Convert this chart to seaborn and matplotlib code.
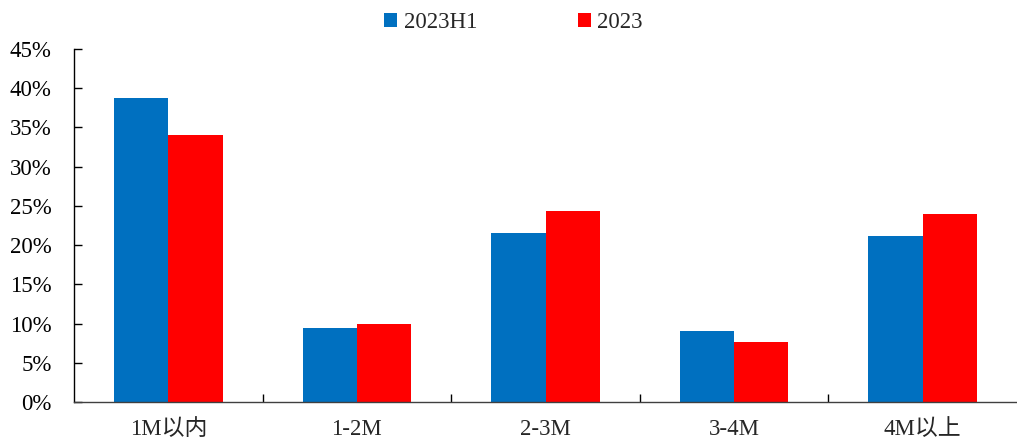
import matplotlib
matplotlib.use("Agg")
import matplotlib.pyplot as plt
import seaborn as sns
import pandas as pd
from matplotlib.ticker import FuncFormatter, FixedLocator

categories = ["1M以内", "1-2M", "2-3M", "3-4M", "4M以上"]
series_names = ["2023H1", "2023"]
h1_values = [38.8, 9.4, 21.5, 9.1, 21.1]
y2023_values = [34.0, 10.0, 24.4, 7.7, 24.0]

df = pd.DataFrame({
    "cat": categories * 2,
    "series": [series_names[0]] * 5 + [series_names[1]] * 5,
    "value": h1_values + y2023_values,
})

sns.set_style("white")
plt.rcParams["font.family"] = ["Liberation Serif", "Noto Sans CJK SC"]

fig = plt.figure(figsize=(10.17, 4.46), dpi=100)
ax = fig.add_axes([74 / 1017, 44 / 446, (1017 - 74) / 1017, (402 - 49) / 446])

palette = {"2023H1": "#0070C0", "2023": "#FF0000"}
sns.barplot(data=df, x="cat", y="value", hue="series", palette=palette,
            width=0.575, ax=ax, saturation=1, edgecolor="none", legend=True)

ax.set_xlim(-0.5, 4.5)
ax.set_ylim(0, 45)
ax.set_yticks(range(0, 46, 5))
ax.yaxis.set_major_formatter(FuncFormatter(lambda v, p: f"{int(v)}%"))
ax.set_xlabel("")
ax.set_ylabel("")

for s in ["top", "right"]:
    ax.spines[s].set_visible(False)
ax.spines["left"].set_color("black")
ax.spines["bottom"].set_color("#404040")
ax.spines["left"].set_linewidth(1.0)
ax.spines["bottom"].set_linewidth(1.0)

FS = 16.5
ax.tick_params(axis="y", direction="in", length=6, width=1, left=True,
               labelsize=FS, pad=16, colors="black")
ax.tick_params(axis="x", which="major", length=0, labelsize=FS, pad=12)
ax.set_xticks(range(len(categories)))
ax.set_xticklabels(categories)
ax.xaxis.set_minor_locator(FixedLocator([0.5, 1.5, 2.5, 3.5]))
ax.tick_params(axis="x", which="minor", direction="in", length=6, width=1,
               bottom=True, color="black")

ax.get_legend().remove()
handles, labels = ax.get_legend_handles_labels()
fig.legend(handles, labels, loc="center", ncol=2, frameon=False,
           fontsize=FS, handlelength=0.55, handleheight=0.55, handletextpad=0.3,
           columnspacing=4.4, bbox_to_anchor=(0.505, 0.95))

fig.savefig("out.png", dpi=100)
